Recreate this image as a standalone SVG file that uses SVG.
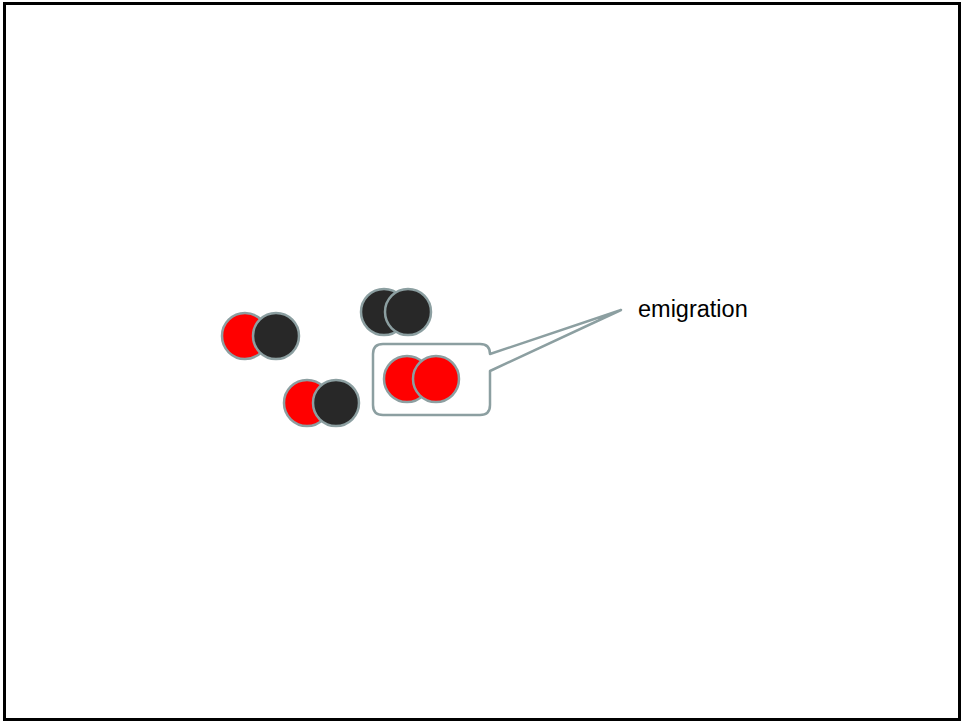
<svg xmlns="http://www.w3.org/2000/svg" width="961" height="721" viewBox="0 0 961 721">
  <style>
    .frame { fill: #ffffff; stroke: #000000; stroke-width: 3; }
    .ball { stroke: #8c9fa1; stroke-width: 2.5; }
    .red { fill: #ff0000; }
    .dark { fill: #282828; }
    .callout { fill: #ffffff; stroke: #8c9fa1; stroke-width: 2.5; stroke-linejoin: round; }
    .label { font-family: "Liberation Sans", Arial, sans-serif; font-size: 23.5px; fill: #000000; }
  </style>
  <rect class="frame" x="4.5" y="3.5" width="955" height="716"/>

  <!-- callout bubble around the emigrating pair -->
  <g id="callout">
    <path class="callout" d="M383,344 H480 Q490,344 490,354 L621,310 L490,371 V405 Q490,415 480,415 H383 Q373,415 373,405 V354 Q373,344 383,344 Z"/>
    <text class="label" x="638" y="317">emigration</text>
  </g>

  <g id="pair-left">
    <circle class="ball red" cx="245" cy="336" r="23"/>
    <circle class="ball dark" cx="276" cy="336" r="23"/>
  </g>
  <g id="pair-top">
    <circle class="ball dark" cx="384" cy="312" r="23"/>
    <circle class="ball dark" cx="408" cy="312" r="23"/>
  </g>
  <g id="pair-bottom">
    <circle class="ball red" cx="307" cy="403" r="23"/>
    <circle class="ball dark" cx="336" cy="403" r="23"/>
  </g>
  <g id="pair-emigrating">
    <circle class="ball red" cx="407" cy="379" r="23"/>
    <circle class="ball red" cx="436" cy="379" r="23"/>
  </g>
</svg>
